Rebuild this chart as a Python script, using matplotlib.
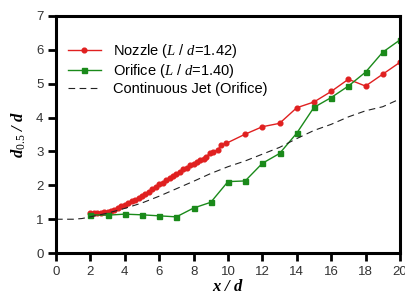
import matplotlib
matplotlib.use("Agg")
import matplotlib.pyplot as plt

plt.rcParams["font.family"] = ["Liberation Sans", "DejaVu Sans"]
plt.rcParams["mathtext.fontset"] = "custom"
plt.rcParams["mathtext.rm"] = "Liberation Serif"
plt.rcParams["mathtext.it"] = "Liberation Serif:italic"
plt.rcParams["mathtext.bf"] = "Liberation Serif:italic:bold"

# Nozzle (L/d = 1.42)
nozzle_x = [2.0, 2.2, 2.4, 2.6, 2.8, 3.0, 3.2, 3.4, 3.6, 3.8, 4.0, 4.2, 4.4, 4.6,
            4.8, 5.0, 5.2, 5.4, 5.6, 5.8, 6.0, 6.2, 6.4, 6.6, 6.8, 7.0, 7.2, 7.4,
            7.6, 7.8, 8.0, 8.2, 8.4, 8.6, 8.75, 8.95, 9.15, 9.4, 9.6, 9.9,
            11, 12, 13, 14, 15, 16, 17, 18, 19, 20]
nozzle_y = [1.18, 1.17, 1.18, 1.19, 1.20, 1.22, 1.25, 1.28, 1.33, 1.38, 1.43, 1.48,
            1.53, 1.57, 1.62, 1.68, 1.75, 1.81, 1.88, 1.95, 2.03, 2.08, 2.15, 2.22,
            2.28, 2.33, 2.40, 2.48, 2.52, 2.60, 2.63, 2.68, 2.74, 2.78, 2.84, 2.96,
            2.99, 3.04, 3.19, 3.24, 3.51, 3.73, 3.83, 4.29, 4.46, 4.77, 5.13, 4.93,
            5.28, 5.63]

# Orifice (L/d = 1.40)
orifice_x = [2, 3, 4, 5, 6, 7, 8, 9, 10, 11, 12, 13, 14, 15, 16, 17, 18, 19, 20]
orifice_y = [1.13, 1.12, 1.15, 1.13, 1.10, 1.07, 1.33, 1.50, 2.11, 2.13, 2.65,
             2.94, 3.54, 4.30, 4.59, 4.93, 5.34, 5.93, 6.29]

# Continuous jet (orifice)
jet_x = [0, 1, 1.5, 2, 3, 4, 5, 6, 7, 8, 9, 10, 11, 12, 13, 14, 15, 16, 17, 18, 19, 20]
jet_y = [1.0, 1.0, 1.02, 1.07, 1.18, 1.32, 1.48, 1.68, 1.90, 2.12, 2.35, 2.55,
         2.72, 2.92, 3.12, 3.38, 3.62, 3.80, 4.02, 4.20, 4.32, 4.55]

fig = plt.figure(figsize=(4.06, 2.95), dpi=100)
ax = fig.add_axes([0.138, 0.142, 0.847, 0.804])

ax.plot(nozzle_x, nozzle_y, color="#e02020", lw=1.0, marker="o", ms=3.4,
        label="Nozzle ($L$ / $d$=1.42)")
ax.plot(orifice_x, orifice_y, color="#1a8a1a", lw=1.0, marker="s", ms=3.6,
        label="Orifice ($L$ / $d$=1.40)")
ax.plot(jet_x, jet_y, color="#222222", lw=0.8, ls=(0, (6, 4)),
        label="Continuous Jet (Orifice)")

ax.set_xlim(0, 20)
ax.set_ylim(0, 7)
ax.set_xticks(range(0, 21, 2))
ax.set_yticks(range(0, 8))
for s in ax.spines.values():
    s.set_linewidth(2.2)
ax.tick_params(direction="out", length=6, width=2, labelsize=9.5,
               labelcolor="#333333", pad=3)

ax.set_xlabel("$\\mathbf{x}$ / $\\mathbf{d}$", fontsize=12, labelpad=1,
              family="Liberation Serif", style="italic", weight="bold")
ax.set_ylabel("$\\mathbf{d}_{\\mathrm{0.5}}$ / $\\mathbf{d}$", fontsize=12,
              labelpad=6, family="Liberation Serif", style="italic", weight="bold")

ax.legend(loc="upper left", bbox_to_anchor=(0.0, 0.94), frameon=False,
          fontsize=10.5, handlelength=2.3, handletextpad=0.8, labelspacing=0.15,
          borderaxespad=0.4)

fig.savefig("out.png", dpi=100)
